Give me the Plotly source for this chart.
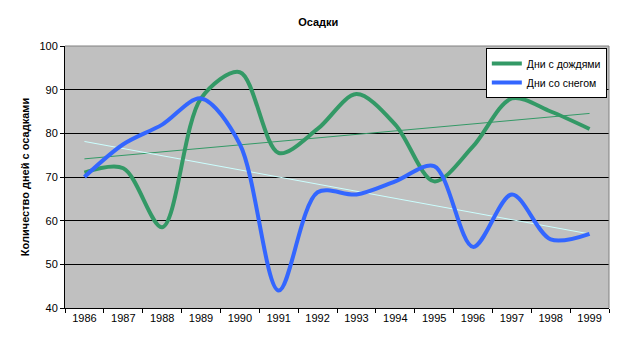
import numpy as np
import plotly.graph_objects as go

years = ["1986", "1987", "1988", "1989", "1990", "1991", "1992",
         "1993", "1994", "1995", "1996", "1997", "1998", "1999"]
rain_days = [71, 72, 58.5, 88, 94, 75.5, 81, 89, 82, 69, 77, 88, 85, 81]
snow_days = [70, 77.5, 82, 88, 77.5, 44, 66.5, 66, 69, 72.5, 54, 66, 55.7, 57]

title_text = "Осадки"
y_title = "Количество дней с осадками"
rain_name = "Дни с дождями"
snow_name = "Дни со снегом"

GREEN = "#339966"
BLUE = "#3366FF"
FONT = "Liberation Sans, Arial, sans-serif"


def trend(vals):
    idx = np.arange(len(vals))
    k, b = np.polyfit(idx, vals, 1)
    return list(k * idx + b)


fig = go.Figure()
fig.add_trace(go.Scatter(x=years, y=trend(rain_days), mode="lines",
                         line=dict(color=GREEN, width=1), showlegend=False,
                         hoverinfo="skip"))
fig.add_trace(go.Scatter(x=years, y=trend(snow_days), mode="lines",
                         line=dict(color="#CCFFFF", width=1), showlegend=False,
                         hoverinfo="skip"))
fig.add_trace(go.Scatter(x=years, y=rain_days, mode="lines", name=rain_name,
                         line=dict(color=GREEN, width=4, shape="spline", smoothing=0.9)))
fig.add_trace(go.Scatter(x=years, y=snow_days, mode="lines", name=snow_name,
                         line=dict(color=BLUE, width=4, shape="spline", smoothing=0.9)))

fig.update_layout(
    width=624, height=350,
    margin=dict(l=65, r=15, t=46, b=42),
    paper_bgcolor="white",
    plot_bgcolor="#C0C0C0",
    font=dict(family=FONT, size=11, color="black"),
    title=dict(text="<b>" + title_text + "</b>", x=0.51, xanchor="center",
               y=1 - 22 / 350, yanchor="middle", font=dict(size=11)),
    showlegend=True,
    legend=dict(x=0.996, y=0.992, xanchor="right", yanchor="top",
                bgcolor="white", bordercolor="black", borderwidth=1,
                font=dict(size=10.5), itemwidth=30, tracegroupgap=0),
)
fig.update_xaxes(type="category", tickson="boundaries", ticks="outside",
                 ticklen=4, tickcolor="black", showline=True, linecolor="black",
                 linewidth=1, showgrid=False, range=[-0.5, 13.5],
                 tickfont=dict(size=11))
fig.update_yaxes(range=[40, 100], dtick=10, tick0=40, ticks="outside",
                 ticklen=4, tickcolor="black", showline=True, linecolor="black",
                 linewidth=1, showgrid=True, gridcolor="black", gridwidth=1,
                 zeroline=False,
                 title=dict(text="<b>" + y_title + "</b>", font=dict(size=11),
                            standoff=7),
                 tickfont=dict(size=11))
fig.add_shape(type="line", xref="paper", yref="paper", x0=0, x1=1, y0=1, y1=1,
              line=dict(color="#808080", width=1))
fig.add_shape(type="line", xref="paper", yref="paper", x0=1, x1=1, y0=0, y1=1,
              line=dict(color="#808080", width=1))

fig.write_html("out.html")
